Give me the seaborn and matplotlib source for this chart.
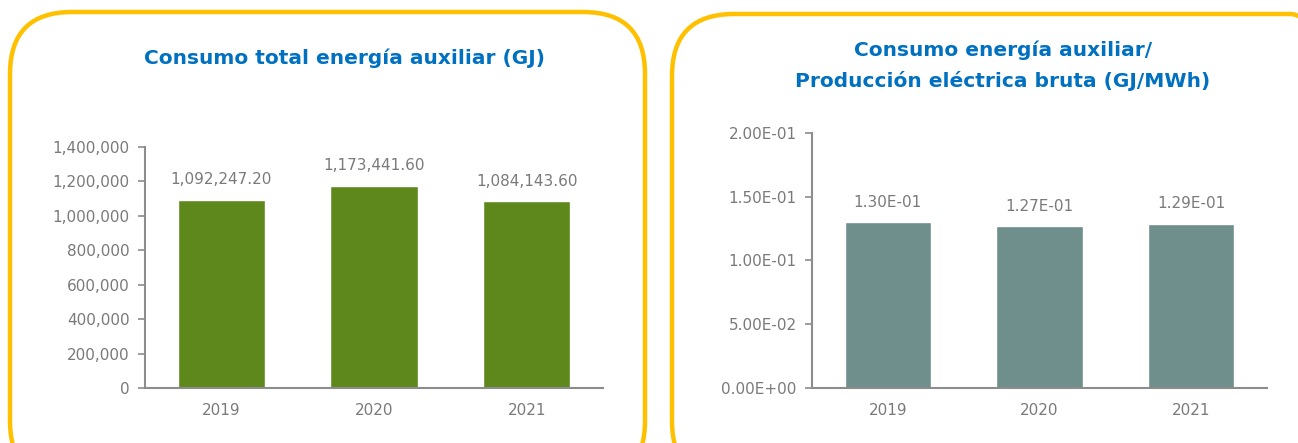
import matplotlib
matplotlib.use("Agg")
import matplotlib.pyplot as plt
import matplotlib.transforms as mtransforms
from matplotlib.patches import FancyBboxPatch
import seaborn as sns
import pandas as pd

# datos
years = ["2019", "2020", "2021"]
consumo_total = [1092247.20, 1173441.60, 1084143.60]
consumo_ratio = [0.130, 0.127, 0.129]

titulo_izq = "Consumo total energía auxiliar (GJ)"
titulo_der = "Consumo energía auxiliar/\nProducción eléctrica bruta (GJ/MWh)"

sns.set_style("white")
plt.rcParams["font.family"] = ["DejaVu Sans"]

gris = "#7a7a7a"
azul = "#0070C0"
amarillo = "#FFC000"

fig = plt.figure(figsize=(12.98, 4.43), dpi=100)

# marcos redondeados (en pixeles)
px = mtransforms.IdentityTransform()
for x0, y0, w, h in [(10, -40, 635, 471), (672, -40, 680, 469)]:
    fig.patches.append(FancyBboxPatch((x0, y0), w, h,
                                      boxstyle="round,pad=0,rounding_size=62",
                                      fill=False, edgecolor=amarillo, linewidth=3.2,
                                      transform=px, figure=fig))

ax1 = fig.add_axes([145 / 1298, 0.1242, 458 / 1298, 0.5440])
ax2 = fig.add_axes([812 / 1298, 0.1242, 455 / 1298, 0.5756])

df1 = pd.DataFrame({"year": years, "valor": consumo_total})
df2 = pd.DataFrame({"year": years, "valor": consumo_ratio})

sns.barplot(data=df1, x="year", y="valor", color="#5E881C", width=0.57,
            saturation=1, ax=ax1)
sns.barplot(data=df2, x="year", y="valor", color="#6F8F8C", width=0.57,
            saturation=1, ax=ax2)

ax1.set_ylim(0, 1400000)
ax1.set_yticks(range(0, 1400001, 200000))
ax1.yaxis.set_major_formatter(matplotlib.ticker.FuncFormatter(lambda v, p: f"{v:,.0f}"))
ax1.bar_label(ax1.containers[0], labels=[f"{v:,.2f}" for v in consumo_total],
              padding=9, color=gris, fontsize=11)

ax2.set_ylim(0, 0.2)
ax2.set_yticks([0, 0.05, 0.10, 0.15, 0.20])
ax2.yaxis.set_major_formatter(matplotlib.ticker.FuncFormatter(lambda v, p: f"{v:.2E}"))
ax2.bar_label(ax2.containers[0], labels=[f"{v:.2E}" for v in consumo_ratio],
              padding=9, color=gris, fontsize=11)

for ax in (ax1, ax2):
    ax.set_xlim(-0.5, 2.5)
    ax.set_xlabel("")
    ax.set_ylabel("")
    ax.patch.set_alpha(0)
    for s in ("top", "right"):
        ax.spines[s].set_visible(False)
    for s in ("left", "bottom"):
        ax.spines[s].set_color("#8c8c8c")
        ax.spines[s].set_linewidth(1.5)
    ax.tick_params(axis="y", left=True, length=5, width=1.2, color="#8c8c8c",
                   labelcolor=gris, labelsize=11, pad=6)
    ax.tick_params(axis="x", bottom=False, labelcolor=gris, labelsize=11, pad=7)

fig.text(345 / 1298, 1 - 58 / 443, titulo_izq, ha="center", va="center",
         color=azul, fontsize=14.5, fontweight="bold")
fig.text(1003 / 1298, 1 - 66 / 443, titulo_der, ha="center", va="center",
         color=azul, fontsize=14.5, fontweight="bold", linespacing=1.7)

fig.savefig("out.png", dpi=100)
